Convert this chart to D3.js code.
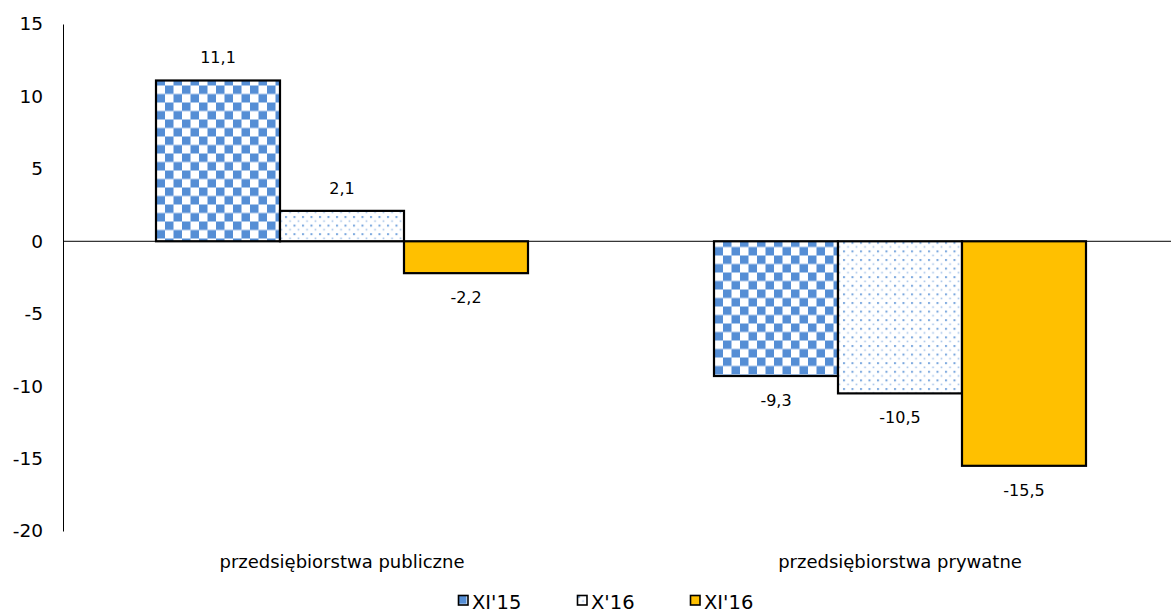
<!DOCTYPE html>
<html>
<head>
<meta charset="utf-8">
<script src="https://cdn.jsdelivr.net/npm/d3@7"></script>
<style>
  html, body { margin: 0; padding: 0; background: #fff; }
  svg { display: block; font-family: "DejaVu Sans", Tahoma, sans-serif; }
</style>
</head>
<body>
<svg id="chart" width="1171" height="613"></svg>
<script>
// Categories and series
const categories = ["przedsiębiorstwa publiczne", "przedsiębiorstwa prywatne"];
const seriesNames = ["XI'15", "X'16", "XI'16"];
const valuesXI15 = [11.1, -9.3];
const valuesX16 = [2.1, -10.5];
const valuesXI16 = [-2.2, -15.5];
const yTicks = [15, 10, 5, 0, -5, -10, -15, -20];

const seriesValues = [valuesXI15, valuesX16, valuesXI16];
const fmt = v => String(v).replace(".", ",");

const svg = d3.select("#chart");
const defs = svg.append("defs");

// Checkerboard fill
const checker = defs.append("pattern")
  .attr("id", "checker").attr("patternUnits", "userSpaceOnUse")
  .attr("width", 17).attr("height", 17).attr("x", 0).attr("y", 0.5);
checker.append("rect").attr("width", 17).attr("height", 17).attr("fill", "#fff");
checker.append("rect").attr("width", 8.5).attr("height", 8.5).attr("fill", "#558ed5");
checker.append("rect").attr("x", 8.5).attr("y", 8.5).attr("width", 8.5).attr("height", 8.5).attr("fill", "#558ed5");

// Dotted fill
const dots = defs.append("pattern")
  .attr("id", "dots").attr("patternUnits", "userSpaceOnUse")
  .attr("width", 8.5).attr("height", 8.6);
dots.append("rect").attr("width", 8.5).attr("height", 8.6).attr("fill", "#fff");
dots.append("rect").attr("x", 1).attr("y", 1).attr("width", 2).attr("height", 2).attr("fill", "#558ed5").attr("opacity", 0.8);
dots.append("rect").attr("x", 5.25).attr("y", 5.3).attr("width", 1.6).attr("height", 1.6).attr("fill", "#558ed5").attr("opacity", 0.55);

const fills = ["url(#checker)", "url(#dots)", "#ffc000"];

const plotLeft = 63, plotRight = 1179, plotTop = 24, plotBottom = 531;

const y = d3.scaleLinear().domain([-20, 15]).range([plotBottom, plotTop]);
const x0 = d3.scaleBand().domain(categories).range([plotLeft, plotRight]).padding(0);
const x1 = d3.scaleBand().domain(seriesNames).range([93, 465]).padding(0);

// Y axis
const yAxis = d3.axisLeft(y).tickValues(yTicks).tickSize(0).tickPadding(20).tickFormat(d => d);
const yg = svg.append("g").attr("transform", `translate(${plotLeft},0)`).call(yAxis);
yg.select(".domain").attr("stroke", "#000").attr("stroke-width", 1);
yg.selectAll("text").attr("font-size", 18.5).attr("fill", "#000")
  .attr("font-family", "DejaVu Sans, sans-serif");

// Bars
const groups = svg.append("g").selectAll("g")
  .data(categories).join("g")
  .attr("transform", d => `translate(${x0(d)},0)`);

groups.each(function(cat, ci) {
  const g = d3.select(this);
  seriesNames.forEach((s, si) => {
    const v = seriesValues[si][ci];
    const bx = x1(s), bw = x1.bandwidth();
    g.append("rect")
      .attr("x", bx).attr("width", bw)
      .attr("y", y(Math.max(0, v)))
      .attr("height", Math.abs(y(v) - y(0)))
      .attr("fill", fills[si])
      .attr("stroke", "#000").attr("stroke-width", 2.2);
    g.append("text")
      .attr("x", bx + bw / 2)
      .attr("y", v >= 0 ? y(v) - 17 : y(v) + 30)
      .attr("text-anchor", "middle")
      .attr("font-size", 16)
      .attr("fill", "#000")
      .text(fmt(v));
  });
});

// Zero line
svg.append("line")
  .attr("x1", plotLeft).attr("x2", 1171)
  .attr("y1", y(0)).attr("y2", y(0))
  .attr("stroke", "#000").attr("stroke-width", 1);

// Category labels
svg.append("g").selectAll("text").data(categories).join("text")
  .attr("x", d => x0(d) + x0.bandwidth() / 2)
  .attr("y", 568)
  .attr("text-anchor", "middle")
  .attr("font-size", 18)
  .attr("fill", "#000")
  .text(d => d);

// Legend
const legendX = [458, 577, 690];
const leg = svg.append("g").selectAll("g").data(seriesNames).join("g")
  .attr("transform", (d, i) => `translate(${legendX[i]},595)`);
leg.append("rect").attr("x", 0.5).attr("y", 0.5).attr("width", 9.5).attr("height", 9.5)
  .attr("fill", (d, i) => fills[i]).attr("stroke", "#000").attr("stroke-width", 1.6);
leg.append("text").attr("x", 14).attr("y", 14)
  .attr("font-size", 19.5).attr("fill", "#000").text(d => d);
</script>
</body>
</html>
